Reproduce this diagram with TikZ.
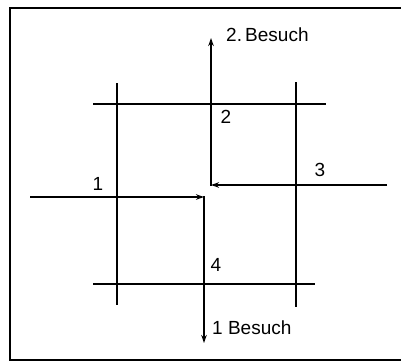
\documentclass[tikz,border=0pt]{standalone}
\usepackage{fontspec}
\setmainfont{Liberation Sans}
\usetikzlibrary{arrows.meta,positioning}
\tikzset{
  frameline/.style={line width=1.6pt, black},
  gridline/.style={line width=1.5pt, black},
  route/.style={line width=1.9pt, -{Stealth[length=8pt, width=5.5pt]}},
  num/.style={font=\fontsize{19}{19}\selectfont, inner sep=0pt},
  visit/.style={num, anchor=west}
}
\begin{document}
\begin{tikzpicture}[x=1pt, y=-1pt]
  \useasboundingbox (0,0) rectangle (401,362);
  % frame, open to the right
  \draw[frameline] (402,8) -- (10,8) -- (10,360) -- (402,360);
  % board lines
  \draw[gridline] (117,83) -- (117,305);
  \draw[gridline] (296,82) -- (296,307);
  \draw[gridline] (93,104) -- (326,104);
  \draw[gridline] (93,284) -- (315,284);
  % the two visits
  \coordinate (start1) at (30,197);
  \coordinate (turn1) at (204,196);
  \coordinate (end1) at (204,343);
  \coordinate (start2) at (387,185);
  \coordinate (turn2) at (211,186);
  \coordinate (end2) at (211,38);
  \draw[route] (start1) -- (turn1 |- start1);
  \draw[route] (turn1) -- (end1);
  \draw[route] (start2) -- (turn2 |- start2);
  \draw[route] (turn2) -- (end2);
  % labels
  \node[num] (n1) at (98,184) {1};
  \node[num] (n2) at (226,117) {2};
  \node[num] (n3) at (320,170) {3};
  \node[num] (n4) at (216,265) {4};
  \node[visit] (v2) at (226,35) {2.\,Besuch};
  \node[visit] (v1) at (212,328) {1 Besuch};
\end{tikzpicture}
\end{document}
